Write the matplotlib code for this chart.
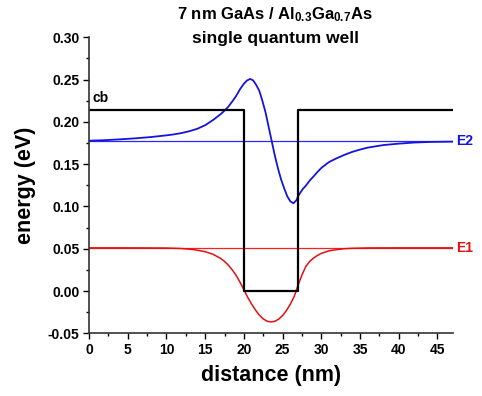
import matplotlib
matplotlib.use("Agg")
import matplotlib.pyplot as plt
from matplotlib.ticker import MultipleLocator

plt.rcParams['font.family'] = ['Liberation Sans', 'DejaVu Sans']
plt.rcParams['font.weight'] = 'bold'
plt.rcParams['mathtext.fontset'] = 'custom'
plt.rcParams['mathtext.rm'] = 'Liberation Sans:bold'
plt.rcParams['mathtext.bf'] = 'Liberation Sans:bold'
plt.rcParams['mathtext.default'] = 'bf'

# conduction band profile
cb_x = [0, 20, 20, 27, 27, 47]
cb_y = [0.214, 0.214, 0.0, 0.0, 0.214, 0.214]

# energy levels
level_names = ['E1', 'E2']
level_vals = [0.051, 0.177]

# E1 wavefunction (offset to E1)
e1_x = [0, 5, 10, 12, 13.5, 15, 16, 17, 17.5, 18, 18.5, 19, 19.5, 20, 20.5, 21, 21.5,
        22, 22.5, 23, 23.5, 24, 24.5, 25, 25.5, 26, 26.5, 27, 27.5, 28, 28.5,
        29, 29.5, 30, 31, 32, 33, 34, 36, 40, 47]
e1_y = [0.051, 0.051, 0.0508, 0.0502, 0.0490, 0.0465, 0.0435, 0.0385, 0.0350, 0.0305, 0.0250,
        0.0185, 0.0105, 0.0015, -0.0075, -0.0155, -0.0225, -0.0285, -0.0330, -0.0357, -0.0365,
        -0.0358, -0.0332, -0.0290, -0.0230, -0.0155, -0.0065, 0.0070, 0.0190, 0.0290, 0.0350,
        0.0390, 0.0420, 0.0445, 0.0475, 0.0490, 0.0500, 0.0505, 0.0509, 0.051, 0.051]

# E2 wavefunction (offset to E2)
e2_x = [0, 2, 4, 6, 8, 10, 11, 12, 13, 14, 15, 16, 17, 17.5, 18, 18.5, 19, 19.5,
        20, 20.4, 20.8, 21.2, 21.6, 22, 22.4, 22.8, 23.2, 23.6, 24, 24.4, 24.8,
        25.2, 25.6, 26, 26.4, 26.8, 27, 27.2, 27.6, 28, 28.5, 29, 29.5, 30, 31, 32, 33,
        34, 35, 36, 38, 40, 42, 44, 47]
e2_y = [0.1777, 0.1783, 0.1793, 0.1805, 0.1820, 0.1840, 0.1852, 0.1868, 0.1890, 0.1918,
        0.1960, 0.2020, 0.2090, 0.2132, 0.2180, 0.2240, 0.2305, 0.2385, 0.2450, 0.2488,
        0.2507, 0.2490, 0.2435, 0.2365, 0.2245, 0.2110, 0.1940, 0.1770, 0.1600, 0.1450,
        0.1320, 0.1215, 0.1120, 0.1060, 0.1037, 0.1075, 0.1120, 0.1150, 0.1205, 0.1245,
        0.1305, 0.1355, 0.1407, 0.1455, 0.1525, 0.1570, 0.1610, 0.1645, 0.1672, 0.1695, 0.1725,
        0.1742, 0.1755, 0.1762, 0.1766]

xticks = [0, 5, 10, 15, 20, 25, 30, 35, 40, 45]
yticks = [-0.05, 0.00, 0.05, 0.10, 0.15, 0.20, 0.25, 0.30]

blue = '#1414dc'
red = '#e01010'

fig = plt.figure(figsize=(4.82, 3.96), dpi=100)
ax = fig.add_axes([0.1846, 0.1583, 0.7552, 0.7477])

x_end = cb_x[-1]
ax.plot([0, x_end], [level_vals[1]] * 2, color='#2828ff', lw=0.9)
ax.plot([0, x_end], [level_vals[0]] * 2, color='#ff2020', lw=0.9)
ax.plot(e2_x, e2_y, color=blue, lw=1.3)
ax.plot(e1_x, e1_y, color=red, lw=1.1)
ax.plot(cb_x, cb_y, color='black', lw=1.6)

ax.set_xlim(0, 47)
ax.set_ylim(-0.05, 0.30)
ax.set_xticks(xticks)
ax.set_yticks(yticks)
ax.set_xticklabels([str(v) for v in xticks])
ax.set_yticklabels(['%.2f' % v for v in yticks])
ax.xaxis.set_minor_locator(MultipleLocator(2.5))
ax.yaxis.set_minor_locator(MultipleLocator(0.025))
ax.tick_params(which='major', direction='out', length=4, width=1, labelsize=10, pad=3)
ax.tick_params(which='minor', direction='out', length=2.5, width=1)
for lab in ax.get_xticklabels() + ax.get_yticklabels():
    lab.set_fontweight('bold')

for s in ['top', 'right']:
    ax.spines[s].set_visible(False)
for s in ['left', 'bottom']:
    ax.spines[s].set_linewidth(1.2)
    ax.spines[s].set_color('#333333')

ax.set_xlabel('distance (nm)', fontsize=15.5, fontweight='bold', labelpad=6)
ax.set_ylabel('energy (eV)', fontsize=15.5, fontweight='bold', labelpad=8)

ax.text(47.4, level_vals[1], level_names[1], color=blue, fontsize=10,
        fontweight='bold', va='center', ha='left', clip_on=False)
ax.text(47.4, level_vals[0], level_names[0], color=red, fontsize=10,
        fontweight='bold', va='center', ha='left', clip_on=False)
ax.text(0.4, 0.2195, 'cb', color='black', fontsize=10, fontweight='bold',
        va='bottom', ha='left')

fig.text(0.571, 0.962, r'7 nm GaAs / Al$_{0.3}$Ga$_{0.7}$As', ha='center',
         va='center', fontsize=12, fontweight='bold')
fig.text(0.571, 0.902, 'single quantum well', ha='center', va='center',
         fontsize=12.5, fontweight='bold')

fig.savefig('out.png', dpi=100)
